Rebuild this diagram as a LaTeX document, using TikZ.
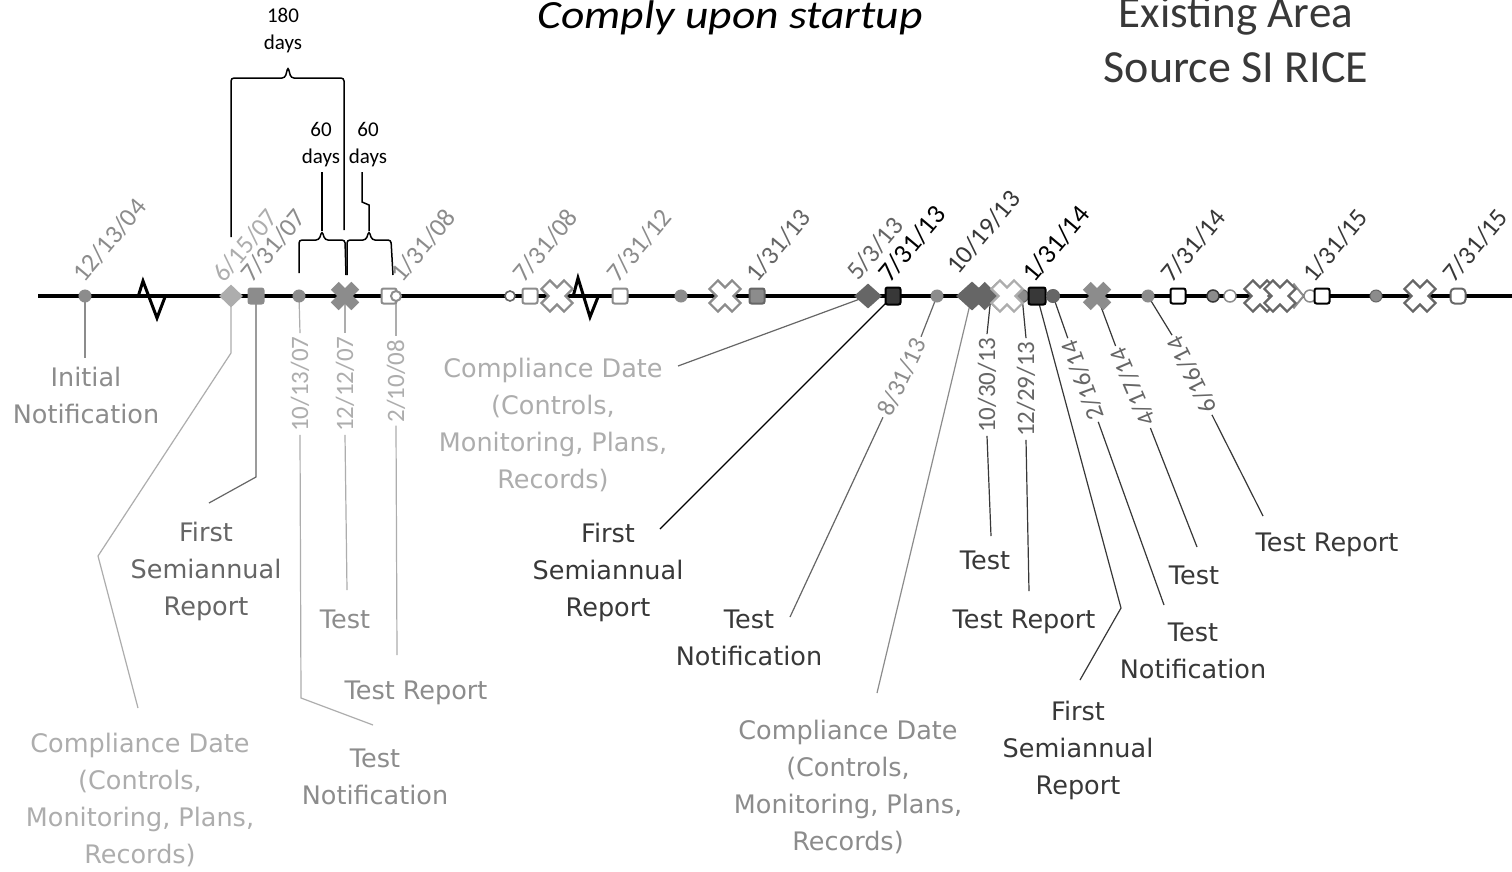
\documentclass[tikz,border=0pt]{standalone}
\usepackage{fontspec}
\setmainfont{DejaVu Sans}
\newfontfamily\calfont{Carlito}
\usetikzlibrary{shapes.geometric,calc}
\pgfdeclarelayer{bg}
\pgfsetlayers{bg,main}
\definecolor{gA}{gray}{0.68}
\definecolor{gB}{gray}{0.55}
\definecolor{gC}{gray}{0.40}
\definecolor{gD}{gray}{0.22}
\tikzset{
  lab/.style={font=\fontsize{25.5}{37}\selectfont, align=center, inner sep=0pt},
  tdate/.style={anchor=base west, rotate=50, font=\calfont\fontsize{26}{26}\selectfont, inner sep=0pt},
  bdate/.style={font=\calfont\fontsize{25}{25}\selectfont, inner sep=3pt},
  lead/.style={line width=1.2pt},
  brc/.style={line width=1.5pt, rounded corners=3pt},
  dot/.style={circle, minimum size=12pt, inner sep=0pt, line width=1pt},
  sq/.style={rectangle, rounded corners=2pt, minimum size=15pt, inner sep=0pt, line width=2pt},
  dia/.style={diamond, minimum width=24pt, minimum height=23pt, inner sep=0pt},
  xfill/.pic={\path[pic actions, rotate=45] (5.5,14.5)--(5.5,5.5)--(14.5,5.5)--(14.5,-5.5)--(5.5,-5.5)--(5.5,-14.5)--(-5.5,-14.5)--(-5.5,-5.5)--(-14.5,-5.5)--(-14.5,5.5)--(-5.5,5.5)--(-5.5,14.5)--cycle;},
  xhol/.pic={\path[pic actions, rotate=45] (6,16)--(6,6)--(16,6)--(16,-6)--(6,-6)--(6,-16)--(-6,-16)--(-6,-6)--(-16,-6)--(-16,6)--(-6,6)--(-6,16)--cycle;},
}
\begin{document}
\begin{tikzpicture}[x=1pt,y=-1pt]
\useasboundingbox (0,0) rectangle (1512,871);

% titles
\node[anchor=base, font=\calfont\itshape\fontsize{40}{40}\selectfont] (title) at (730,28) {\scalebox{1.14}[1]{Comply upon startup}};
\node[anchor=base, font=\calfont\fontsize{45}{45}\selectfont, text=gD] (sub1) at (1236,27) {Existing Area};
\node[anchor=base, font=\calfont\fontsize{46}{46}\selectfont, text=gD] (sub2) at (1236,82) {Source SI RICE};

% brace labels
\node[font=\calfont\fontsize{21}{27}\selectfont, align=center, inner sep=0pt] (b180) at (283,31) {180\\days};
\node[font=\calfont\fontsize{21}{27}\selectfont, align=center, inner sep=0pt] (b60a) at (321,145) {60\\days};
\node[font=\calfont\fontsize{21}{27}\selectfont, align=center, inner sep=0pt] (b60b) at (368,145) {60\\days};

% markers
\node[dot, fill=gB, draw=gB] (m1) at (85,296) {};
\node[dia, fill=gA] (m2) at (231,296) {};
\node[sq, fill=gB, draw=gB] (m3) at (256,296) {};
\node[dot, fill=gB, draw=gB] (m4) at (299,296) {};
\coordinate (m5) at (345,296);
\node[sq, fill=white, draw=gB] (m6) at (389,296) {};
\node[dot, fill=white, draw=gB, line width=2pt, minimum size=10pt] (m6b) at (396,296) {};
\node[dot, fill=white, draw=gC, line width=1.6pt, minimum size=10pt] (m7) at (510,296) {};
\node[sq, fill=white, draw=gB] (m8) at (530,296) {};
\coordinate (m9) at (557,296);
\node[sq, fill=white, draw=gB] (m10) at (620,296) {};
\node[dot, fill=gB, draw=gB] (m11) at (681,296) {};
\coordinate (m12) at (725,296);
\node[sq, fill=gB, draw=gC] (m13) at (757,296) {};
\node[dia, fill=gC, minimum width=28pt, minimum height=25pt] (m14) at (868,296) {};
\node[sq, fill=gD, draw=black, minimum height=17pt] (m15) at (893,296) {};
\node[dot, fill=gB, draw=gB] (m16) at (937,296) {};
\node[dia, fill=gC, minimum width=32pt, minimum height=29pt] (m17) at (972,296) {};
\coordinate (m18) at (991,296);
\coordinate (m19) at (1007,296);
\node[dot, fill=gB, draw=gC, minimum size=13pt] (m20) at (1022,296) {};
\node[sq, fill=gD, draw=black, minimum size=17pt] (m21) at (1037,296) {};
\node[dot, fill=gC, draw=gC, minimum size=13pt] (m22) at (1053,296) {};
\coordinate (m23) at (1097,296);
\node[dot, fill=gB, draw=gB] (m24) at (1148,296) {};
\node[sq, fill=white, draw=black] (m25) at (1178,296) {};
\node[dot, fill=gB, draw=gD, line width=1.5pt] (m26) at (1213,296) {};
\node[dot, fill=white, draw=gB, line width=1.5pt] (m27) at (1230,296) {};
\coordinate (m28) at (1260,296);
\coordinate (m29) at (1280,296);
\node[diamond, fill=white, draw=gB, line width=2pt, minimum width=20pt, minimum height=24pt, inner sep=0pt] (m30) at (1294,296) {};
\node[dot, fill=white, draw=gB, line width=1.5pt] (m31) at (1310,296) {};
\node[sq, fill=white, draw=black] (m32) at (1322,296) {};
\node[dot, fill=gB, draw=gC] (m33) at (1376,296) {};
\coordinate (m34) at (1420,296);
\node[sq, rounded corners=4pt, fill=white, draw=gC] (m35) at (1458,296) {};

% X markers
\pic[fill=gB] at (m5) {xfill};
\pic[fill=white, draw=gB, line width=2.2pt] at (m9) {xhol};
\pic[fill=white, draw=gB, line width=2.2pt] at (m12) {xhol};
\pic[fill=gC] at (m18) {xfill};
\pic[fill=white, draw=gA, line width=2.2pt] at (m19) {xhol};
\pic[fill=gB] at (m23) {xfill};
\pic[fill=white, draw=gC, line width=2.2pt] at (m28) {xhol};
\pic[fill=white, draw=gC, line width=2.2pt] at (m29) {xhol};
\pic[fill=white, draw=gC, line width=2.2pt] at (m34) {xhol};

% top dates
\node[tdate, text=gB] (t1) at (84,284) {12/13/04};
\node[tdate, text=gA] (t2) at (224,284) {6/15/07};
\node[tdate, text=gB] (t3) at (252,284) {7/31/07};
\node[tdate, text=gB] (t4) at (402,284) {1/31/08};
\node[tdate, text=gB] (t5) at (524,284) {7/31/08};
\node[tdate, text=gB] (t6) at (618,284) {7/31/12};
\node[tdate, text=gC] (t7) at (757,284) {1/31/13};
\node[tdate, text=gC] (t8) at (858,282) {5/3/13};
\node[tdate, text=black, font=\calfont\fontsize{27}{27}\selectfont] (t9) at (890,284) {7/31/13};
\node[tdate, text=gD] (t10) at (958,276) {10/19/13};
\node[tdate, text=black, font=\calfont\fontsize{27}{27}\selectfont] (t11) at (1034,284) {1/31/14};
\node[tdate, text=gD] (t12) at (1172,284) {7/31/14};
\node[tdate, text=gD] (t13) at (1314,284) {1/31/15};
\node[tdate, text=gD] (t14) at (1454,284) {7/31/15};

% lower dates
\node[bdate, rotate=90, text=gA] (d4) at (300,384) {10/13/07};
\node[bdate, rotate=90, text=gA] (d5) at (345,384) {12/12/07};
\node[bdate, rotate=90, text=gA] (d6) at (396,381) {2/10/08};
\node[bdate, rotate=64.7, text=gB] (d16) at (902,377) {8/31/13};
\node[bdate, rotate=90, text=gC] (d18) at (987,385) {10/30/13};
\node[bdate, rotate=90, text=gC] (d20) at (1026,389) {12/29/13};
\node[bdate, rotate=110, text=gC] (d22) at (1083,380) {2/16/14};
\node[bdate, rotate=113, text=gC] (d23) at (1133,387) {4/17/14};
\node[bdate, rotate=116.6, text=gC] (d24) at (1192,375) {6/16/14};

% labels
\node[lab, text=gB] (lab1) at (86,395) {Initial\\Notification};
\node[lab, text=gA] (lab2) at (140,800) {Compliance Date\\(Controls,\\Monitoring, Plans,\\Records)};
\node[lab, text=gC] (lab3) at (206,571) {First\\Semiannual\\Report};
\node[lab, text=gB] (lab4) at (375,777) {Test\\Notification};
\node[lab, text=gB] (lab5) at (345,619) {Test};
\node[lab, text=gB] (lab6) at (416,693) {Test Report};
\node[lab, text=gA] (lab14) at (553,425) {Compliance Date\\(Controls,\\Monitoring, Plans,\\Records)};
\node[lab, text=gD] (lab15) at (608,572) {First\\Semiannual\\Report};
\node[lab, text=gD] (lab16) at (749,638) {Test\\Notification};
\node[lab, text=gB] (lab17) at (848,787) {Compliance Date\\(Controls,\\Monitoring, Plans,\\Records)};
\node[lab, text=gD] (lab18) at (985,560) {Test};
\node[lab, text=gD] (lab20) at (1024,622) {Test Report};
\node[lab, text=gD] (lab21) at (1078,750) {First\\Semiannual\\Report};
\node[lab, text=gD] (lab22) at (1193,651) {Test\\Notification};
\node[lab, text=gD] (lab23) at (1194,575) {Test};
\node[lab, text=gD] (lab24) at (1327,545) {Test Report};

% leader end points
\coordinate (e1) at (85,358);
\coordinate (e2) at (138,708);
\coordinate (e3) at (209,503);
\coordinate (e4) at (373,725);
\coordinate (e5) at (347,590);
\coordinate (e6) at (397,655);
\coordinate (e14) at (678,366);
\coordinate (e15) at (660,529);
\coordinate (e16) at (790,617);
\coordinate (e17) at (877,693);
\coordinate (e18) at (991,536);
\coordinate (e20) at (1029,591);
\coordinate (e21) at (1080,680);
\coordinate (e22) at (1164,605);
\coordinate (e23) at (1197,547);
\coordinate (e24) at (1263,516);

\begin{pgfonlayer}{bg}
\fill[white] (0,0) rectangle (1512,871);
% timeline
\draw[line width=3.6pt] (38,296) -- (1512,296);
\draw[line width=3pt] (138,297) -- (143,281) -- (157,318) -- (165,297);
\draw[line width=3pt] (573,297) -- (578,278) -- (590,317) -- (598,297);
% braces
\draw[brc] (231,237) -- (231,78) -- (285,78) -- (288,67) -- (291,78) -- (344,78) -- (344,230);
\draw[brc] (299,273) -- (299,240) -- (319,240) -- (322,231) -- (325,240) -- (345,240) -- (346,275);
\draw[line width=1.5pt] (322,231) -- (322,172);
\draw[brc] (347,275) -- (347,240) -- (366,240) -- (369,231) -- (372,240) -- (391,240) -- (393,275);
\draw[line width=1.5pt] (369,231) -- (369,205) -- (362,202) -- (362,172);
% leaders
\draw[lead, gB] (m1.center) -- (e1);
\draw[lead, gA] (m2.center) -- (231,353) -- (98,556) -- (e2);
\draw[lead, gC] (m3.center) -- (256,477) -- (e3);
\draw[lead, gA] (m4.center) -- (d4.east);
\draw[lead, gA] (d4.west) -- (301,698) -- (e4);
\draw[lead, gA] (m5) -- (d5.east);
\draw[lead, gA] (d5.west) -- (e5);
\draw[lead, gA] (m6b.center) -- (d6.east);
\draw[lead, gA] (d6.west) -- (e6);
\draw[lead, gC] (m14.center) -- (e14);
\draw[lead, black] (m15.center) -- (e15);
\draw[lead, gC] (m16.center) -- (d16.east);
\draw[lead, gC] (d16.west) -- (e16);
\draw[lead, gB] (m17.center) -- (e17);
\draw[lead, gD] (m18) -- (d18.east);
\draw[lead, gD] (d18.west) -- (e18);
\draw[lead, gD] (m20.center) -- (d20.east);
\draw[lead, gD] (d20.west) -- (e20);
\draw[lead, gD] (m21.center) -- (1121,608) -- (e21);
\draw[lead, gD] (m22.center) -- (d22.east);
\draw[lead, gD] (d22.west) -- (e22);
\draw[lead, gD] (m23) -- (d23.east);
\draw[lead, gD] (d23.west) -- (e23);
\draw[lead, gD] (m24.center) -- (d24.east);
\draw[lead, gD] (d24.west) -- (e24);
\end{pgfonlayer}
\end{tikzpicture}
\end{document}
